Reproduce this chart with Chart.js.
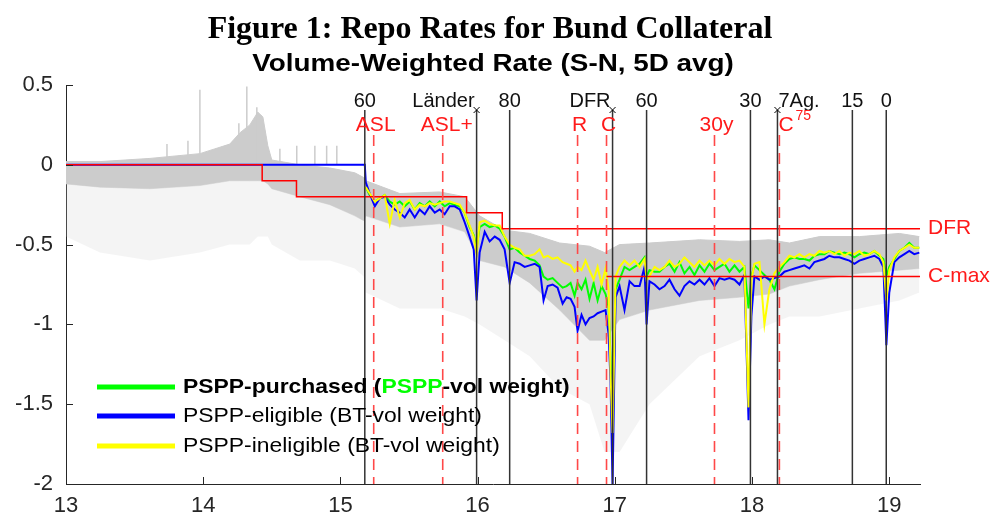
<!DOCTYPE html>
<html><head><meta charset="utf-8">
<script src="https://cdn.jsdelivr.net/npm/chart.js@4.4.1/dist/chart.umd.min.js"></script>
<style>html,body{margin:0;padding:0;background:#fff;}canvas{display:block;}</style>
</head><body>
<canvas id="c" width="992" height="520" style="width:992px;height:520px"></canvas>
<script>
// ---------- DATA ----------
const xTicks = [13, 14, 15, 16, 17, 18, 19];
const yTicks = [-2, -1.5, -1, -0.5, 0, 0.5];

const lineDates = [
 13.000, 15.178, 15.185, 15.214, 15.251, 15.287, 15.323, 15.360, 15.396, 15.433,
 15.469, 15.505, 15.542, 15.578, 15.615, 15.651, 15.688, 15.724, 15.760, 15.797,
 15.833, 15.870, 15.906, 15.942, 15.972, 15.993, 16.015, 16.052, 16.088, 16.125,
 16.161, 16.197, 16.234, 16.270, 16.307, 16.343, 16.380, 16.416, 16.452, 16.481,
 16.511, 16.547, 16.583, 16.620, 16.649, 16.678, 16.707, 16.729, 16.758, 16.787,
 16.816, 16.846, 16.875, 16.904, 16.933, 16.955, 16.969, 16.984, 17.006, 17.035,
 17.071, 17.108, 17.144, 17.181, 17.217, 17.232, 17.253, 17.290, 17.326, 17.363,
 17.399, 17.436, 17.472, 17.508, 17.545, 17.581, 17.618, 17.654, 17.690, 17.727,
 17.763, 17.800, 17.836, 17.873, 17.909, 17.945, 17.975, 17.996, 18.018, 18.055,
 18.091, 18.127, 18.164, 18.200, 18.237, 18.273, 18.310, 18.346, 18.382, 18.419,
 18.455, 18.492, 18.528, 18.564, 18.601, 18.637, 18.674, 18.710, 18.747, 18.783,
 18.819, 18.856, 18.892, 18.929, 18.958, 18.980, 19.001, 19.038, 19.074, 19.111,
 19.147, 19.183, 19.220];

const eligibleRates = [
 0, 0, -0.11, -0.18, -0.26, -0.21, -0.20, -0.25, -0.28, -0.30,
 -0.33, -0.28, -0.33, -0.28, -0.31, -0.26, -0.30, -0.28, -0.31, -0.26,
 -0.26, -0.28, -0.36, -0.45, -0.53, -0.85, -0.55, -0.42, -0.48, -0.45,
 -0.47, -0.53, -0.74, -0.61, -0.62, -0.64, -0.63, -0.62, -0.64, -0.85,
 -0.76, -0.75, -0.77, -0.87, -0.83, -0.84, -0.89, -1.04, -0.94, -1.00,
 -0.96, -0.95, -0.93, -0.92, -0.91, -1.06, -1.35, -2.00, -0.83, -0.76,
 -0.91, -0.73, -0.76, -0.76, -0.64, -1.00, -0.73, -0.75, -0.78, -0.76,
 -0.72, -0.78, -0.82, -0.76, -0.73, -0.75, -0.72, -0.75, -0.71, -0.76,
 -0.71, -0.72, -0.71, -0.72, -0.75, -0.69, -1.60, -0.95, -0.70, -0.72,
 -0.70, -0.72, -0.71, -0.70, -0.67, -0.66, -0.65, -0.64, -0.63, -0.65,
 -0.61, -0.60, -0.59, -0.57, -0.58, -0.58, -0.59, -0.60, -0.62, -0.60,
 -0.59, -0.58, -0.57, -0.59, -0.64, -1.13, -0.80, -0.61, -0.58, -0.56,
 -0.54, -0.56, -0.55];

const purchasedRates = [
 null, null, -0.14, -0.19, -0.23, -0.21, -0.19, -0.23, -0.25, -0.23,
 -0.26, -0.23, -0.28, -0.24, -0.26, -0.23, -0.26, -0.23, -0.26, -0.24,
 -0.25, -0.26, -0.30, -0.39, -0.44, -0.52, -0.39, -0.37, -0.39, -0.38,
 -0.40, -0.45, -0.53, -0.52, -0.55, -0.57, -0.59, -0.60, -0.63, -0.70,
 -0.72, -0.71, -0.74, -0.77, -0.76, -0.74, -0.82, -0.74, -0.78, -0.72,
 -0.84, -0.74, -0.85, -0.76, -0.81, -0.89, -1.20, -1.65, -0.78, -0.72,
 -0.64, -0.66, -0.64, -0.62, -0.58, -0.70, -0.66, -0.67, -0.67, -0.64,
 -0.62, -0.67, -0.61, -0.68, -0.64, -0.69, -0.63, -0.67, -0.62, -0.66,
 -0.64, -0.62, -0.67, -0.63, -0.67, -0.64, -0.90, -0.70, -0.63, -0.66,
 -0.69, -0.72, -0.78, -0.67, -0.62, -0.59, -0.58, -0.59, -0.59, -0.60,
 -0.57, -0.56, -0.56, -0.54, -0.55, -0.56, -0.55, -0.56, -0.58, -0.56,
 -0.55, -0.56, -0.54, -0.57, -0.59, -0.70, -0.64, -0.59, -0.54, -0.52,
 -0.49, -0.52, -0.52];

const ineligibleRates = [
 null, null, -0.14, -0.18, -0.23, -0.21, -0.19, -0.37, -0.22, -0.33,
 -0.24, -0.22, -0.28, -0.25, -0.26, -0.24, -0.25, -0.24, -0.23, -0.23,
 -0.24, -0.25, -0.30, -0.38, -0.45, -0.56, -0.36, -0.35, -0.37, -0.38,
 -0.38, -0.45, -0.50, -0.52, -0.53, -0.57, -0.57, -0.56, -0.53, -0.58,
 -0.57, -0.59, -0.58, -0.61, -0.62, -0.63, -0.67, -0.64, -0.66, -0.60,
 -0.66, -0.72, -0.64, -0.75, -0.65, -0.78, -1.30, -1.68, -0.70, -0.64,
 -0.60, -0.63, -0.60, -0.64, -0.59, -0.72, -0.70, -0.64, -0.66, -0.64,
 -0.60, -0.64, -0.62, -0.58, -0.61, -0.64, -0.60, -0.63, -0.60, -0.63,
 -0.59, -0.62, -0.59, -0.61, -0.60, -0.64, -1.52, -0.72, -0.62, -0.61,
 -1.00, -0.78, -0.68, -0.64, -0.61, -0.57, -0.58, -0.56, -0.58, -0.56,
 -0.57, -0.54, -0.55, -0.54, -0.56, -0.54, -0.57, -0.55, -0.56, -0.54,
 -0.57, -0.56, -0.54, -0.56, -0.61, -0.85, -0.66, -0.58, -0.54, -0.52,
 -0.50, -0.52, -0.52];

// grey cloud of individual bond repo rates (envelopes)
const cloudDates  = [13.000, 13.248, 13.612, 13.976, 14.194, 14.267, 14.340, 14.398, 14.435, 14.471, 14.500, 14.704, 14.923, 15.105, 15.170, 15.185, 15.433, 15.724, 15.906, 16.015, 16.197, 16.380, 16.598, 16.816, 16.926, 17.035, 17.253, 17.618, 17.909, 18.127, 18.273, 18.492, 18.783, 19.074, 19.220];
const cloudTop    = [0.02, 0.02, 0.04, 0.07, 0.13, 0.20, 0.25, 0.33, 0.30, 0.12, 0.03, 0.00, -0.02, -0.05, -0.08, -0.10, -0.18, -0.17, -0.20, -0.32, -0.41, -0.43, -0.49, -0.51, -0.55, -0.50, -0.49, -0.47, -0.48, -0.47, -0.49, -0.45, -0.45, -0.43, -0.45];
const cloudDense  = [-0.12, -0.14, -0.15, -0.13, -0.10, -0.10, -0.10, -0.10, -0.10, -0.12, -0.15, -0.20, -0.25, -0.32, -0.35, -0.32, -0.39, -0.37, -0.42, -0.60, -0.64, -0.74, -0.91, -1.10, -1.10, -0.97, -0.91, -0.85, -0.83, -0.81, -0.76, -0.72, -0.68, -0.66, -0.65];
const cloudSparse = [-0.45, -0.55, -0.60, -0.55, -0.50, -0.50, -0.50, -0.45, -0.45, -0.45, -0.50, -0.60, -0.60, -0.65, -0.70, -0.80, -0.90, -0.90, -0.95, -1.00, -1.10, -1.20, -1.40, -1.50, -1.80, -1.80, -1.50, -1.20, -1.10, -1.00, -0.95, -0.95, -0.90, -0.85, -0.80];
const spikeDates = [13.736, 13.889, 13.976, 14.260, 14.318, 14.391, 14.559, 14.682, 14.814, 14.900, 14.974];
const spikeTops  = [0.13, 0.15, 0.47, 0.26, 0.49, 0.36, 0.10, 0.12, 0.12, 0.12, 0.12];

// deposit facility rate steps and collateral cap
const dfrDates = [13.000, 14.430, 14.680, 15.920, 16.180, 19.225];
const dfrRates = [0, -0.1, -0.2, -0.3, -0.4, -0.4];
const cmaxDates = [16.940, 19.225];
const cmaxRates = [-0.7, -0.7];

// policy events
const purchaseEventDates  = [15.178, 15.993, 16.234, 16.984, 17.232, 17.989, 18.186, 18.732, 18.979];
const purchaseEventLabels = ['60', 'Länder', '80', 'DFR', '60', '30', '7Ag.', '15', '0'];
const otherEventDates  = [15.243, 15.746, 16.729, 16.940, 17.727, 18.200];
const otherEventLabels = ['ASL', 'ASL+', 'R', 'C', '30y', 'C'];

// ---------- CHART ----------
const pts = (xs, ys) => xs.map((x, i) => ({x: x, y: ys[i]}));
const spikeData = [];
spikeDates.forEach((d, i) => { spikeData.push({x: d, y: 0}, {x: d, y: spikeTops[i]}, {x: d, y: null}); });

const SANS = '"Liberation Sans", Arial, sans-serif';
function stretchedText(c, txt, x, y, sx) {
  c.save(); c.translate(x, y); c.scale(sx, 1); c.fillText(txt, 0, 0); c.restore();
}
const decor = {
  id: 'decor',
  afterDatasetsDraw(chart) {
    const c = chart.ctx, xs = chart.scales.x, ys = chart.scales.y, ca = chart.chartArea;
    c.save();
    // inward ticks
    c.strokeStyle = '#262626'; c.lineWidth = 1;
    xTicks.forEach(v => { const p = Math.round(xs.getPixelForValue(v)) + 0.5; c.beginPath(); c.moveTo(p, ca.bottom); c.lineTo(p, ca.bottom - 7); c.stroke(); });
    yTicks.forEach(v => { const p = Math.round(ys.getPixelForValue(v)) + 0.5; c.beginPath(); c.moveTo(ca.left, p); c.lineTo(ca.left + 7, p); c.stroke(); });
    // red dashed event lines
    c.strokeStyle = '#ff4848'; c.lineWidth = 1.6; c.setLineDash([11, 7]);
    otherEventDates.forEach(d => { const p = xs.getPixelForValue(d); c.beginPath(); c.moveTo(p, ca.top + 50); c.lineTo(p, ca.bottom); c.stroke(); });
    c.setLineDash([]);
    // black solid event lines
    c.strokeStyle = '#333333'; c.lineWidth = 1.5;
    purchaseEventDates.forEach(d => { const p = xs.getPixelForValue(d); c.beginPath(); c.moveTo(p, ca.top + 25); c.lineTo(p, ca.bottom); c.stroke(); });
    // x markers
    c.lineWidth = 1; c.strokeStyle = '#000';
    [1, 3, 6].forEach(i => { const p = xs.getPixelForValue(purchaseEventDates[i]); const y = ca.top + 25; c.beginPath(); c.moveTo(p - 3, y - 3); c.lineTo(p + 3, y + 3); c.moveTo(p + 3, y - 3); c.lineTo(p - 3, y + 3); c.stroke(); });
    // black labels
    c.fillStyle = '#111'; c.font = '20px ' + SANS; c.textBaseline = 'alphabetic';
    purchaseEventDates.forEach((d, i) => {
      const p = xs.getPixelForValue(d);
      const lab = purchaseEventLabels[i];
      if (i === 1 || i === 3) { c.textAlign = 'right'; c.fillText(lab, p - 2, ca.top + 22); }
      else if (i === 6) { c.textAlign = 'left'; c.fillText(lab, p + 1, ca.top + 22); }
      else { c.textAlign = 'center'; c.fillText(lab, p, ca.top + 22); }
    });
    // red labels
    c.fillStyle = '#ff1a1a'; c.font = '21px ' + SANS;
    otherEventDates.forEach((d, i) => {
      const p = xs.getPixelForValue(d);
      const lab = otherEventLabels[i];
      if (i === otherEventDates.length - 1) {
        c.textAlign = 'left'; c.fillText(lab, p - 1, ca.top + 46);
        const w = c.measureText(lab).width;
        c.font = '14px ' + SANS; c.fillText('75', p + w + 1, ca.top + 35); c.font = '21px ' + SANS;
      } else {
        c.textAlign = 'center'; c.fillText(lab, p + (i === 1 ? 4 : 2), ca.top + 46);
      }
    });
    // DFR / C-max labels
    c.textAlign = 'left'; c.textBaseline = 'middle';
    c.fillText('DFR', ca.right + 8, ys.getPixelForValue(dfrRates[dfrRates.length - 1]));
    c.fillText('C-max', ca.right + 8, ys.getPixelForValue(cmaxRates[0]));
    // legend
    const rows = [
      {col: '#00ff00', y: 387},
      {col: '#0000ff', y: 416},
      {col: '#ffff00', y: 446}
    ];
    rows.forEach(r => { c.strokeStyle = r.col; c.lineWidth = 5; c.beginPath(); c.moveTo(97, r.y); c.lineTo(175, r.y); c.stroke(); });
    c.textBaseline = 'middle'; c.textAlign = 'left';
    c.font = 'bold 21px ' + SANS;
    let x0 = 183;
    const sx = 1.09;
    const parts = [['PSPP-purchased (', '#000'], ['PSPP', '#00ff00'], ['-vol weight)', '#000']];
    parts.forEach(pp => { c.fillStyle = pp[1]; stretchedText(c, pp[0], x0, rows[0].y, sx); x0 += c.measureText(pp[0]).width * sx; });
    c.font = '21px ' + SANS; c.fillStyle = '#000';
    stretchedText(c, 'PSPP-eligible (BT-vol weight)', 183, rows[1].y, sx);
    stretchedText(c, 'PSPP-ineligible (BT-vol weight)', 183, rows[2].y, sx);
    // titles
    c.textAlign = 'center'; c.textBaseline = 'alphabetic'; c.fillStyle = '#000';
    c.font = 'bold 32px "Liberation Serif", "Times New Roman", serif';
    c.fillText('Figure 1: Repo Rates for Bund Collateral', 490, 38);
    c.font = 'bold 24px ' + SANS;
    stretchedText(c, 'Volume-Weighted Rate (S-N, 5D avg)', 493, 71, 1.16);
    c.restore();
  }
};

new Chart(document.getElementById('c'), {
  type: 'line',
  data: {
    datasets: [
      {label: 'cloudTop', data: pts(cloudDates, cloudTop), borderColor: '#cccccc', borderWidth: 1, fill: false, order: 20},
      {label: 'cloudSparse', data: pts(cloudDates, cloudSparse), borderColor: 'rgba(0,0,0,0)', borderWidth: 1, backgroundColor: 'rgba(204,204,204,0.22)', fill: 0, order: 19},
      {label: 'cloudDense', data: pts(cloudDates, cloudDense), borderColor: 'rgba(204,204,204,0.5)', borderWidth: 1, backgroundColor: '#cccccc', fill: 0, order: 18},
      {label: 'spikes', data: spikeData, borderColor: '#cccccc', borderWidth: 1.5, spanGaps: false, fill: false, order: 17},
      {label: 'PSPP-purchased', data: pts(lineDates, purchasedRates), borderColor: '#00ff00', borderWidth: 2, fill: false, order: 6},
      {label: 'PSPP-eligible', data: pts(lineDates, eligibleRates), borderColor: '#0000ff', borderWidth: 2, fill: false, order: 5},
      {label: 'PSPP-ineligible', data: pts(lineDates, ineligibleRates), borderColor: '#ffff00', borderWidth: 2, fill: false, order: 4},
      {label: 'DFR', data: pts(dfrDates, dfrRates), borderColor: '#ff0000', borderWidth: 1.5, stepped: 'before', fill: false, order: 2},
      {label: 'C-max', data: pts(cmaxDates, cmaxRates), borderColor: '#ff0000', borderWidth: 1.5, fill: false, order: 2}
    ]
  },
  options: {
    responsive: false, animation: false, devicePixelRatio: 1,
    layout: {padding: {top: 85, right: 72, left: 0, bottom: 0}},
    elements: {point: {radius: 0}, line: {tension: 0}},
    plugins: {legend: {display: false}, tooltip: {enabled: false}, title: {display: false}},
    scales: {
      x: {
        type: 'linear', min: 13, max: 19.225,
        grid: {display: false, drawTicks: false},
        border: {display: true, color: '#262626', width: 1},
        ticks: {color: '#262626', font: {family: 'Liberation Sans', size: 22}, padding: 9, maxRotation: 0, callback: v => String(v)},
        afterBuildTicks: s => { s.ticks = xTicks.map(v => ({value: v})); },
        afterFit: s => { s.height = 36; }
      },
      y: {
        type: 'linear', min: -2, max: 0.5,
        grid: {display: false, drawTicks: false},
        border: {display: true, color: '#262626', width: 1},
        ticks: {color: '#262626', font: {family: 'Liberation Sans', size: 22}, padding: 13, callback: v => String(v)},
        afterBuildTicks: s => { s.ticks = yTicks.map(v => ({value: v})); },
        afterFit: s => { s.width = 66; }
      }
    }
  },
  plugins: [decor]
});
</script>
</body></html>
